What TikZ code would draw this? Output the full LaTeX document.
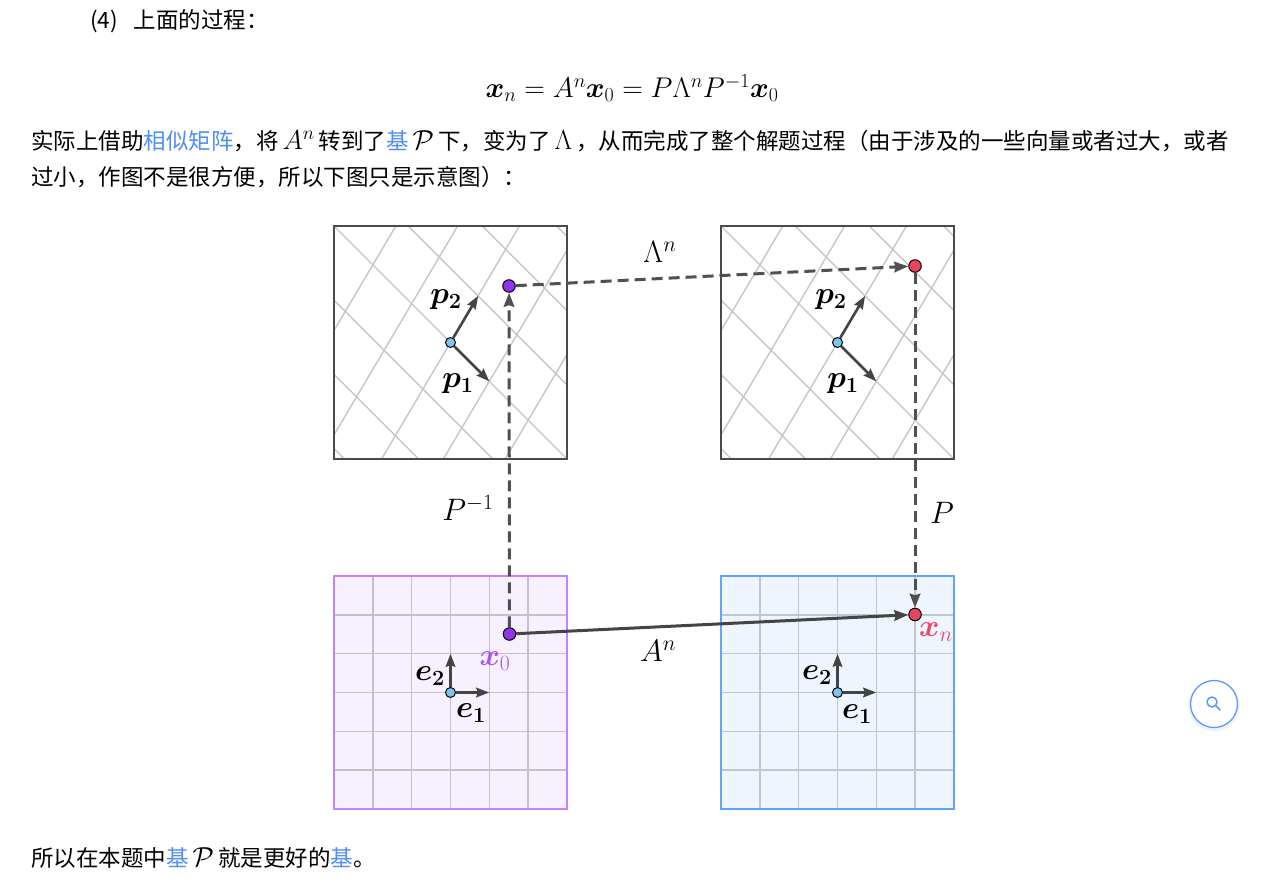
\RequirePackage{fix-cm}
\documentclass[tikz,border=0pt]{standalone}
\usepackage{fontspec}
\usepackage{amsmath}
\usepackage{bm}
\newfontfamily\cjk{Noto Sans CJK SC}
\usetikzlibrary{arrows.meta}
\definecolor{framec}{HTML}{4A4A4A}
\definecolor{gridg}{HTML}{C6C6C6}
\definecolor{linkblue}{HTML}{4F8EF7}
\definecolor{purpdot}{HTML}{9333EA}
\definecolor{purplab}{HTML}{A855F7}
\definecolor{reddot}{HTML}{E9445E}
\definecolor{redlab}{HTML}{EC4868}
\definecolor{bluedot}{HTML}{7CC4F0}
\definecolor{purpframe}{HTML}{C084FC}
\definecolor{purpfill}{HTML}{F7F0FE}
\definecolor{purpgrid}{HTML}{C7BFD0}
\definecolor{blueframe}{HTML}{60A5FA}
\definecolor{bluefill}{HTML}{EEF5FE}
\definecolor{bluegrid}{HTML}{BEC6D0}
\definecolor{arrowc}{HTML}{444444}
\definecolor{dashc}{HTML}{505050}
\definecolor{searchc}{HTML}{5B9BF8}
\newcommand{\lnk}[1]{{\color{linkblue}#1}}
\newcommand{\inm}[1]{\hspace{4pt}{\fontsize{27.5}{30}\selectfont$#1$}\hspace{4pt}}
\newcommand{\pgridat}[2]{%
 \begin{scope}
 \clip ({#1-116.5},{#2-116.5}) rectangle ({#1+116.5},{#2+116.5});
 \foreach \k in {-8,...,8}{
   \draw[pgrid] ({#1+\k*27.57-10*38.83},{#2-\k*46.6-10*38.83}) -- ({#1+\k*27.57+10*38.83},{#2-\k*46.6+10*38.83});
   \draw[pgrid] ({#1+\k*38.83-10*27.57},{#2+\k*38.83+10*46.6}) -- ({#1+\k*38.83+10*27.57},{#2+\k*38.83-10*46.6});
 }
 \end{scope}
 \draw[sqframe] ({#1-116.5},{#2-116.5}) rectangle ({#1+116.5},{#2+116.5});
}
\newcommand{\egridat}[5]{%
 \fill[#3] ({#1-116.5},{#2-116.5}) rectangle ({#1+116.5},{#2+116.5});
 \foreach \i in {1,...,5}{
   \draw[egrid,#5] ({#1-116.5+\i*38.83},{#2-116.5}) -- ({#1-116.5+\i*38.83},{#2+116.5});
   \draw[egrid,#5] ({#1-116.5},{#2-116.5+\i*38.83}) -- ({#1+116.5},{#2-116.5+\i*38.83});
 }
 \draw[line width=2.4pt,#4] ({#1-116.5},{#2-116.5}) rectangle ({#1+116.5},{#2+116.5});
}
\begin{document}
\begin{tikzpicture}[x=1pt,y=-1pt,
  pgrid/.style={draw=gridg, line width=1.4pt},
  egrid/.style={line width=1.6pt},
  sqframe/.style={draw=framec, line width=2.4pt},
  txt/.style={font=\cjk\fontsize{22.5}{28}\selectfont, inner sep=0pt},
  fm/.style={font=\fontsize{28.5}{32}\selectfont, inner sep=0pt},
  lab/.style={font=\fontsize{31}{34}\selectfont, inner sep=0pt},
  bdot/.style={circle, fill=bluedot, draw=black, line width=1pt, minimum size=10pt, inner sep=0pt},
  pdot/.style={circle, fill=purpdot, draw=black, line width=1pt, minimum size=12.5pt, inner sep=0pt},
  rdot/.style={circle, fill=reddot, draw=black, line width=1pt, minimum size=12.5pt, inner sep=0pt},
  vec/.style={draw=arrowc, line width=2.6pt, -{Stealth[length=13pt,width=9.5pt,inset=1.5pt]}},
  dasharr/.style={draw=dashc, line width=3pt, dash pattern=on 11pt off 6pt, -{Stealth[length=14pt,width=10.5pt,inset=1.5pt]}},
  solidarr/.style={draw=arrowc, line width=3pt, -{Stealth[length=14pt,width=10.5pt,inset=1.5pt]}}
]
\fill[white] (0,0) rectangle (1279,894);
\useasboundingbox (0,0) rectangle (1279,894);

% texts
\node[txt, anchor=base west] (title) at (90,28) {(4)\hspace{16pt}上面的过程：};
\node[fm] (eq) at (632,88) {$\bm{x}_n = A^n\bm{x}_0 = P\Lambda^nP^{-1}\bm{x}_0$};
\node[txt, anchor=base west] (line1) at (31,149) {实际上借助\lnk{相似矩阵}，将\inm{A^n}转到了\lnk{基}\inm{\mathcal{P}}下，变为了\inm{\Lambda}，从而完成了整个解题过程（由于涉及的一些向量或者过大，或者};
\node[txt, anchor=base west] (line2) at (31,185) {过小，作图不是很方便，所以下图只是示意图）：};
\node[txt, anchor=base west] (line3) at (31,866) {所以在本题中\lnk{基}\inm{\mathcal{P}}就是更好的\lnk{基}。};

% squares
\pgridat{450.5}{342.5}
\pgridat{837.5}{342.5}
\egridat{450.5}{692.5}{purpfill}{purpframe}{purpgrid}
\egridat{837.5}{692.5}{bluefill}{blueframe}{bluegrid}

% vector end points
\coordinate (p1a) at (489.3,381.3);
\coordinate (p2a) at (478.1,295.9);
\coordinate (p1b) at (876.3,381.3);
\coordinate (p2b) at (865.1,295.9);
\coordinate (e1a) at (489.3,692.5);
\coordinate (e2a) at (450.5,653.7);
\coordinate (e1b) at (876.3,692.5);
\coordinate (e2b) at (837.5,653.7);

% dots
\node[bdot] (o1) at (450.5,342.5) {};
\node[bdot] (o2) at (837.5,342.5) {};
\node[bdot] (o3) at (450.5,692.5) {};
\node[bdot] (o4) at (837.5,692.5) {};
\node[pdot] (pt) at (509,286) {};
\node[rdot] (rt) at (915,266) {};
\node[pdot] (x0) at (509.5,634) {};
\node[rdot] (xn) at (915,614.5) {};

% vectors
\draw[vec] (o1) -- (p1a);
\draw[vec] (o1) -- (p2a);
\draw[vec] (o2) -- (p1b);
\draw[vec] (o2) -- (p2b);
\draw[vec] (o3) -- (e1a);
\draw[vec] (o3) -- (e2a);
\draw[vec] (o4) -- (e1b);
\draw[vec] (o4) -- (e2b);

% connectors
\draw[dasharr] (x0) -- (pt);
\draw[dasharr] (pt) -- (rt);
\draw[dasharr] (rt) -- (xn);
\draw[solidarr] (x0) -- (xn);

% labels
\node[lab] (lLam) at (660,252) {$\Lambda^n$};
\node[lab] (lPi) at (468,508) {$P^{-1}$};
\node[lab] (lP) at (942,513) {$P$};
\node[lab] (lA) at (658,651) {$A^n$};
\node[lab, text=purplab] (lx0) at (495,661) {$\bm{x}_0$};
\node[lab, text=redlab] (lxn) at (936,632) {$\bm{x}_n$};
\node[lab] (lp2a) at (446,300) {$\bm{p_2}$};
\node[lab] (lp1a) at (458,384) {$\bm{p_1}$};
\node[lab] (lp2b) at (831,300) {$\bm{p_2}$};
\node[lab] (lp1b) at (843,384) {$\bm{p_1}$};
\node[lab] (le2a) at (430,676) {$\bm{e_2}$};
\node[lab] (le1a) at (471,713) {$\bm{e_1}$};
\node[lab] (le2b) at (817,675) {$\bm{e_2}$};
\node[lab] (le1b) at (857,714) {$\bm{e_1}$};

% search button
\fill[black, opacity=0.05] (1214,706) circle (25.5);
\node[circle, draw=searchc, fill=white, line width=1.3pt, minimum size=47pt, inner sep=0pt] (search) at (1214,704) {};
\draw[searchc, line width=1.5pt] (1212,702) circle (5);
\draw[searchc, line width=1.5pt, line cap=round] (1215.6,705.6) -- (1220,710);
\end{tikzpicture}
\end{document}
